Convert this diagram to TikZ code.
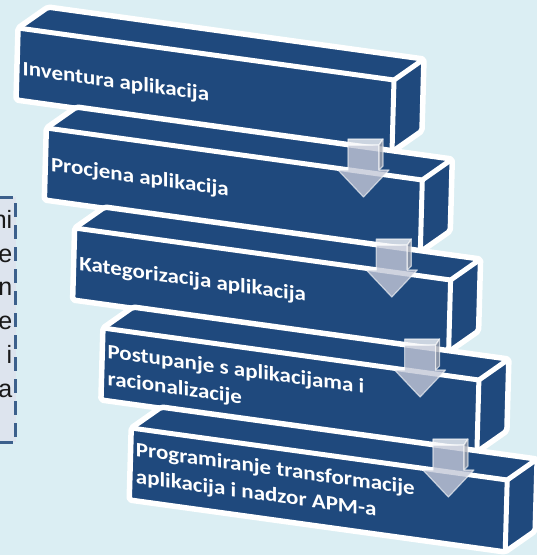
\documentclass[tikz,border=0pt]{standalone}
\usepackage{fontspec}
\setsansfont{Liberation Sans}
\newfontfamily\stepfont{Carlito}
\usetikzlibrary{calc}
\definecolor{stepblue}{RGB}{31,73,125}
\definecolor{paleblue}{RGB}{219,238,243}
\definecolor{notefill}{RGB}{221,228,238}
\definecolor{noteline}{RGB}{60,96,140}
\definecolor{arrowgray}{RGB}{196,200,216}
\tikzset{Step Box/.style = {fill = stepblue, draw = white, line width = 5.5pt, line join = round, rounded corners = 2pt}}
\tikzset{Step Edge/.style = {draw = white, line width = 5pt, line join = round}}
\tikzset{Step Text/.style = {text = white, font = \stepfont\bfseries\fontsize{20.5}{27}\selectfont,
  align = left, anchor = north west, inner sep = 0pt, cm = {1.12, -0.155, 0, 1, (0, 0)}}}
\tikzset{Step Arrow/.style = {fill = arrowgray, fill opacity = 0.8, draw = white, draw opacity = 0.6,
  line width = 1.2pt, line join = round}}

\begin{document}
\begin{tikzpicture}[x = 1pt, y = -1pt]
  \useasboundingbox (0, 0) rectangle (537, 555);
  \fill[paleblue] (0, 0) rectangle (537, 555);
  \clip (0, 0) rectangle (537, 555);

  % note box, cut off by the left edge
  \draw[fill = notefill, draw = noteline, line width = 3pt, dash pattern = on 14pt off 8pt]
  (-20, 197) rectangle (15.5, 442);
  \node[font = \sffamily\fontsize{25}{33.8}\selectfont, align = right, anchor = north east,
  inner sep = 0pt, text = black!90] (note) at (12.5, 210) {ni\\e\\n\\e\\i\\a};

  % steps
  \foreach \i/\txt/\dy in {0/{Inventura aplikacija}/32.5, 1/{Procjena aplikacija}/28.5,
    2/{Kategorizacija aplikacija}/27.5, 3/{Postupanje s aplikacijama i\\racionalizacije}/15.5,
    4/{Programiranje transformacije\\aplikacija i nadzor APM-a}/13.5} {
    \coordinate (T\i) at (18 + 28.3*\i, 28 + 100*\i);
    \draw[Step Box] (T\i) -- ++(30, -21) -- ++(376, 52) -- ++(-2, 72) -- ++(-30, 21) --
    ++(-376, -52) -- cycle;
    \draw[Step Edge] (T\i) -- ++(376, 52) coordinate (R\i) -- ++(-2, 72);
    \draw[Step Edge] (R\i) -- ++(30, -21);
    \node[Step Text] (step\i) at ($(T\i) + (4.5, \dy)$) {\txt};
  }

  % arrows between the steps
  \foreach \i in {0, 1, 2, 3} {
    \coordinate (A\i) at ($(R\i) + (-30.5, 59)$);
    \draw[Step Arrow] ($(A\i) + (-15.5, 6)$) -- ++(0, 25) -- ++(-10, 0) -- ++(25.5, 27) --
    ++(25.5, -27) -- ++(-10, 0) -- ++(0, -25) -- cycle;
    \draw[Step Arrow, fill = white!85!arrowgray] ($(A\i) + (-15.5, 6)$) -- ++(0, -6) --
    ++(35, 0) -- ++(-4, 6) -- cycle;
    \draw[Step Arrow, fill = arrowgray!80!black!90] ($(A\i) + (15.5, 6)$) -- ++(4, -6) --
    ++(0, 27) -- ++(-4, 4) -- cycle;
  }
\end{tikzpicture}
\end{document}
